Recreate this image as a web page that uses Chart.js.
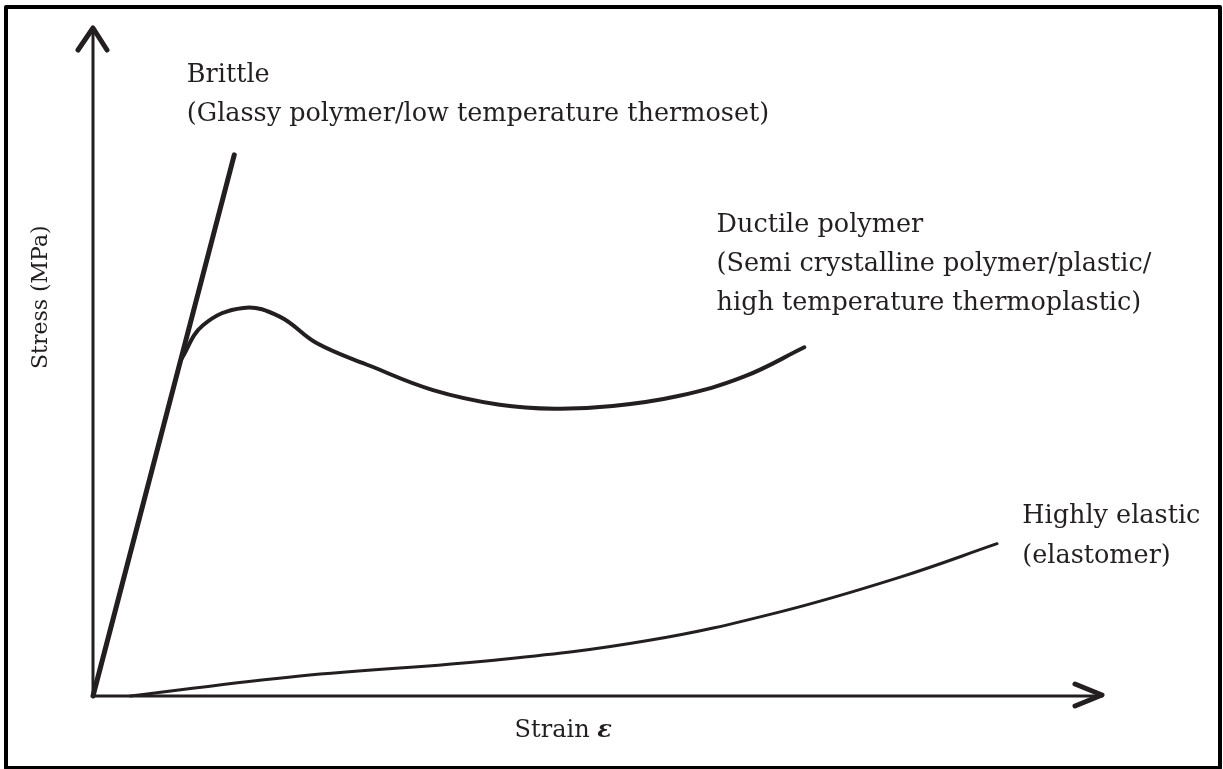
<!DOCTYPE html>
<html lang="en">
<head>
  <meta charset="utf-8">
  <title>Stress-strain curves of polymers</title>
  <script src="https://cdn.jsdelivr.net/npm/chart.js@4.4.0/dist/chart.umd.min.js"></script>
  <style>
    html, body { margin: 0; padding: 0; background: #fff; }
    .wrap { width: 1223px; height: 769px; position: relative; }
  </style>
</head>
<body>

  <div class="wrap">
    <canvas id="chart"></canvas>
  </div>

  <script>
    // curve points (strain, stress), arbitrary units 0-100
    var brittleX = [0, 14.0];
    var brittleY = [0, 81.0];

    var ductileX = [8.7, 10.9, 14.9, 18.5, 22.2, 27.5, 33.7, 40.3, 45.8, 51.5, 58.0, 64.5, 70.5];
    var ductileY = [50.3, 55.5, 58.1, 56.8, 52.8, 49.4, 45.8, 43.6, 43.0, 43.4, 44.9, 47.8, 52.2];

    var elasticX = [3.7, 20.5, 40.0, 55.0, 68.1, 80.0, 89.6];
    var elasticY = [0, 3.0, 5.4, 8.3, 12.6, 17.8, 22.8];

    var xTitle = 'Strain ';
    var xSymbol = 'ε';
    var yTitle = 'Stress (MPa)';

    // curve captions, anchored in data units
    var captions = [
      { x: 9.3, y: 91.9, text: 'Brittle' },
      { x: 9.3, y: 86.1, text: '(Glassy polymer/low temperature thermoset)' },
      { x: 61.8, y: 69.4, text: 'Ductile polymer' },
      { x: 61.8, y: 63.6, text: '(Semi crystalline polymer/plastic/' },
      { x: 61.8, y: 57.8, text: 'high temperature thermoplastic)' },
      { x: 92.1, y: 25.9, text: 'Highly elastic' },
      { x: 92.1, y: 19.9, text: '(elastomer)' }
    ];

    function pts(xs, ys) {
      return xs.map(function (x, i) { return { x: x, y: ys[i] }; });
    }

    var ink = '#231f20';
    var font = '"DejaVu Serif", "Liberation Serif", serif';

    var drawing = {
      id: 'drawing',
      beforeDraw: function (chart) {
        var ctx = chart.ctx;
        ctx.save();
        ctx.fillStyle = '#fff';
        ctx.fillRect(0, 0, chart.width, chart.height);
        ctx.restore();
      },
      afterDatasetsDraw: function (chart) {
        var ctx = chart.ctx;
        var sx = chart.scales.x, sy = chart.scales.y;
        var x0 = sx.getPixelForValue(0), y0 = sy.getPixelForValue(0);
        var xEnd = sx.getPixelForValue(100), yEnd = sy.getPixelForValue(100);

        ctx.save();
        ctx.strokeStyle = ink;
        ctx.lineCap = 'round';
        ctx.lineJoin = 'round';

        // axes
        ctx.lineWidth = 3;
        ctx.beginPath();
        ctx.moveTo(x0, yEnd);
        ctx.lineTo(x0, y0);
        ctx.lineTo(xEnd, y0);
        ctx.stroke();

        // arrow heads
        ctx.lineWidth = 5;
        ctx.beginPath();
        ctx.moveTo(x0 - 15, yEnd + 22);
        ctx.lineTo(x0, yEnd);
        ctx.lineTo(x0 + 14, yEnd + 22);
        ctx.moveTo(xEnd - 27, y0 - 12);
        ctx.lineTo(xEnd, y0 - 1);
        ctx.lineTo(xEnd - 27, y0 + 10);
        ctx.stroke();

        // outer frame
        ctx.strokeStyle = '#000';
        ctx.lineWidth = 4;
        ctx.lineCap = 'butt';
        ctx.strokeRect(6, 7, 1214, 761);

        // captions
        ctx.fillStyle = ink;
        ctx.font = '25.5px ' + font;
        ctx.textAlign = 'left';
        ctx.textBaseline = 'alphabetic';
        captions.forEach(function (c) {
          ctx.fillText(c.text, sx.getPixelForValue(c.x), sy.getPixelForValue(c.y));
        });

        // x title: "Strain" + bold epsilon
        var bx = sx.getPixelForValue(46.6), by = sy.getPixelForValue(-6.1);
        ctx.font = '24px ' + font;
        var w1 = ctx.measureText(xTitle).width;
        ctx.font = 'bold italic 24px ' + font;
        var w2 = ctx.measureText(xSymbol).width;
        var left = bx - (w1 + w2) / 2;
        ctx.font = '24px ' + font;
        ctx.fillText(xTitle, left, by);
        ctx.font = 'bold italic 24px ' + font;
        ctx.fillText(xSymbol, left + w1, by);

        // y title
        ctx.translate(sx.getPixelForValue(-4.6), sy.getPixelForValue(59.7));
        ctx.rotate(-Math.PI / 2);
        ctx.font = '22px ' + font;
        ctx.textAlign = 'center';
        ctx.fillText(yTitle, 0, 0);
        ctx.restore();
      }
    };

    new Chart(document.getElementById('chart').getContext('2d'), {
      type: 'scatter',
      data: {
        datasets: [
          { label: 'Brittle', data: pts(brittleX, brittleY), borderWidth: 5 },
          { label: 'Ductile polymer', data: pts(ductileX, ductileY), borderWidth: 4 },
          { label: 'Highly elastic', data: pts(elasticX, elasticY), borderWidth: 3 }
        ].map(function (d) {
          d.showLine = true;
          d.tension = 0.4;
          d.pointRadius = 0;
          d.borderColor = ink;
          d.backgroundColor = ink;
          d.borderCapStyle = 'round';
          d.clip = false;
          return d;
        })
      },
      options: {
        responsive: true,
        maintainAspectRatio: false,
        animation: false,
        layout: { padding: { left: 93, right: 121, top: 28, bottom: 73 } },
        plugins: { legend: { display: false }, tooltip: { enabled: false } },
        scales: {
          x: { type: 'linear', min: 0, max: 100, display: false },
          y: { type: 'linear', min: 0, max: 100, display: false }
        }
      },
      plugins: [drawing]
    });
  </script>
</body>
</html>
